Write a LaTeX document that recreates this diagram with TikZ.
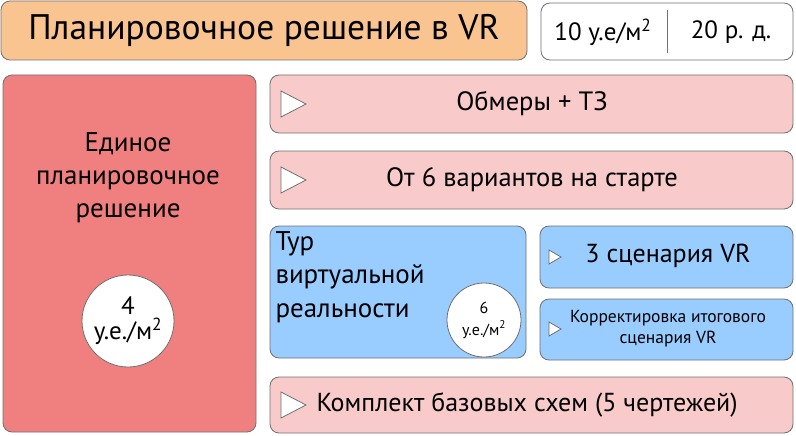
\documentclass[tikz,border=0pt]{standalone}
\usepackage{fontspec}
\setmainfont{PT Sans}
\definecolor{orng}{HTML}{FAC491}
\definecolor{redb}{HTML}{F08080}
\definecolor{pinkb}{HTML}{F8CACA}
\definecolor{blueb}{HTML}{99CCFF}
\definecolor{edge}{HTML}{707070}
\tikzset{
 box/.style={draw=edge,line width=0.8pt,rounded corners=9pt},
 tri/.style={draw=edge,fill=white,line width=0.8pt},
 circ/.style={circle,draw=edge,fill=white,line width=0.8pt,align=center,inner sep=0pt}
}
\begin{document}
\begin{tikzpicture}[x=1pt,y=-1pt]
\useasboundingbox (0,0) rectangle (796,436);
% title
\draw[box,fill=orng] (1,1) rectangle (527,60);
\node[font=\fontsize{35.5}{40}\selectfont] (title) at (264,30) {Планировочное решение в VR};
\draw[box,fill=white] (541,3) rectangle (793,60);
\draw[edge,line width=0.8pt] (667,10) -- (667,53);
\node[font=\fontsize{25}{28}\selectfont] (price) at (603,32) {10 у.е/м\textsuperscript{2}};
\node[font=\fontsize{25}{28}\selectfont] (days) at (731,32) {20 р. д.};
% left
\draw[box,fill=redb] (3,75) rectangle (256,432);
\node[align=center,font=\fontsize{27}{33}\selectfont] (uni) at (128,178) {Единое\\планировочное\\решение};
\node[circ,minimum size=92pt,font=\fontsize{25}{25}\selectfont] (c1) at (128,321) {4\\у.е./м\textsuperscript{2}};
% pink bars
\foreach \ya/\yb/\t/\n in {75/133/{Обмеры + ТЗ}/b1,151/209/{От 6 вариантов на старте}/b2}{
 \draw[box,fill=pinkb] (270,\ya) rectangle (793,\yb);
 \draw[tri] (281,{(\ya+\yb)/2-13}) -- (306,{(\ya+\yb)/2}) -- (281,{(\ya+\yb)/2+13}) -- cycle;
 \node[font=\fontsize{26.5}{30}\selectfont] (\n) at (532,{(\ya+\yb)/2}) {\t};
}
\draw[box,fill=pinkb] (270,377) rectangle (793,433);
\draw[tri] (281,392) -- (306,405) -- (281,418) -- cycle;
\node[anchor=west,font=\fontsize{26}{30}\selectfont] (b3) at (313,405) {Комплект базовых схем (5 чертежей)};
% blue
\draw[box,fill=blueb] (270,226) rectangle (526,358);
\node[anchor=north west,align=left,font=\fontsize{27}{33.5}\selectfont] (tour) at (272,228) {Тур\\виртуальной\\реальности};
\node[circ,minimum size=74pt,font=\fontsize{16}{22}\selectfont] (c2) at (484,320) {6\\у.е./м\textsuperscript{2}};
\draw[box,fill=blueb] (540,226) rectangle (793,288);
\draw[tri] (549,250) -- (561,257) -- (549,264) -- cycle;
\node[font=\fontsize{26}{30}\selectfont] (s1) at (668,256) {3 сценария VR};
\draw[box,fill=blueb] (540,299) rectangle (793,360);
\draw[tri] (549,322) -- (561,329) -- (549,336) -- cycle;
\node[align=center,font=\fontsize{17.5}{21}\selectfont] (s2) at (668,329) {Корректировка итогового\\сценария VR};
\end{tikzpicture}
\end{document}
